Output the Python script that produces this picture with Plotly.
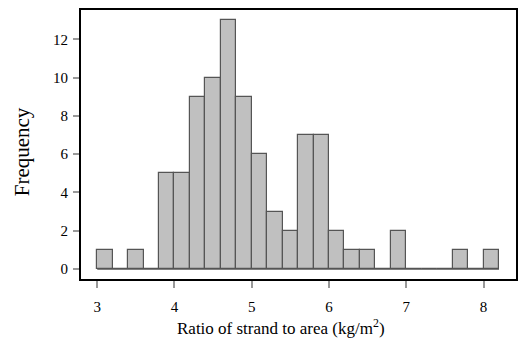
import plotly.graph_objects as go

bin_starts = [3.0, 3.2, 3.4, 3.6, 3.8, 4.0, 4.2, 4.4, 4.6, 4.8, 5.0, 5.2, 5.4, 5.6,
              5.8, 6.0, 6.2, 6.4, 6.6, 6.8, 7.0, 7.2, 7.4, 7.6, 7.8, 8.0]
counts = [1, 0, 1, 0, 5, 5, 9, 10, 13, 9, 6, 3, 2, 7,
          7, 2, 1, 1, 0, 2, 0, 0, 0, 1, 0, 1]
bin_width = 0.2
x_ticks = [3, 4, 5, 6, 7, 8]
y_ticks = [0, 2, 4, 6, 8, 10, 12]

centers = [b + bin_width / 2 for b in bin_starts]

W, H = 520, 356
L, R, T, B = 81, 2, 10, 77
pw, ph = W - L - R, H - T - B

fig = go.Figure()
fig.add_trace(go.Scatter(
    x=[bin_starts[0], bin_starts[-1] + bin_width], y=[0, 0],
    mode="lines", line=dict(color="#555555", width=1.5),
    hoverinfo="skip", showlegend=False))
fig.add_trace(go.Bar(
    x=centers, y=counts, width=bin_width,
    marker=dict(color="#c0c0c0", line=dict(color="#555555", width=1.2)),
    showlegend=False))

font = "Liberation Serif, Times New Roman, serif"
fig.update_layout(
    width=W, height=H,
    margin=dict(l=L, r=R, t=T, b=B),
    plot_bgcolor="white", paper_bgcolor="white",
    bargap=0,
    font=dict(family=font, color="black", size=15),
)
fig.update_xaxes(
    range=[2.79, 8.42], tickvals=x_ticks, ticktext=[str(t) for t in x_ticks],
    showgrid=False, zeroline=False,
    showline=True, mirror=True, linecolor="black", linewidth=2,
    ticks="outside", ticklen=7, tickcolor="#999999", tickwidth=1.5,
    ticklabelstandoff=6,
    tickfont=dict(size=15, family=font),
)
fig.update_yaxes(
    range=[-0.52, 13.53], tickvals=y_ticks, ticktext=[str(t) for t in y_ticks],
    showgrid=False, zeroline=False,
    showline=True, mirror=True, linecolor="black", linewidth=2,
    ticks="outside", ticklen=6, tickcolor="#999999", tickwidth=1.5,
    ticklabelstandoff=2,
    tickfont=dict(size=15, family=font),
)
fig.add_annotation(
    text="Ratio of strand to area (kg/m<sup>2</sup>)",
    xref="paper", yref="paper",
    x=(282 - L) / pw, y=-(327 - (T + ph)) / ph,
    xanchor="center", yanchor="middle", showarrow=False,
    font=dict(size=17, family=font, color="black"),
)
fig.add_annotation(
    text="Frequency", textangle=-90,
    xref="paper", yref="paper",
    x=-(L - 22) / pw, y=1 - (152 - T) / ph,
    xanchor="center", yanchor="middle", showarrow=False,
    font=dict(size=21, family=font, color="black"),
)

fig.write_html("out.html")
